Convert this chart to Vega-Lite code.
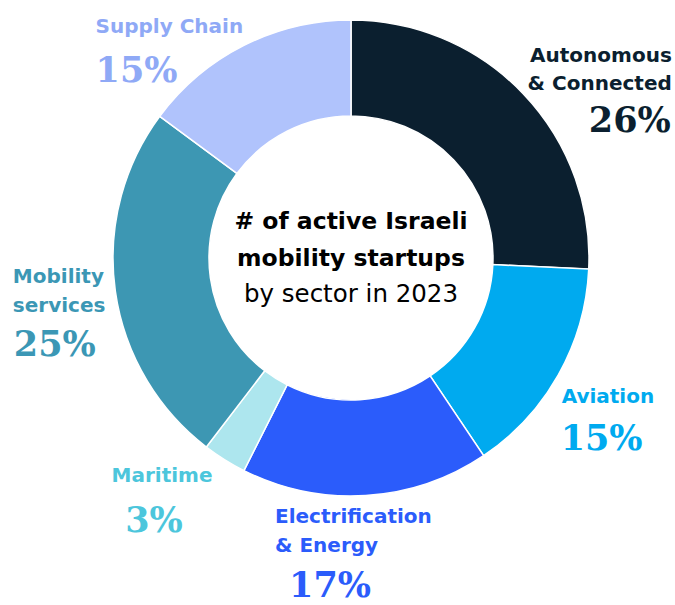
{
  "$schema": "https://vega.github.io/schema/vega-lite/v6.json",
  "width": 648,
  "height": 516,
  "autosize": {"type": "none"},
  "padding": {"left": 27, "top": 0, "right": 0, "bottom": 89},
  "background": "white",
  "config": {"view": {"stroke": null}},
  "data": {
    "values": [
      {"sector": "Autonomous & Connected", "label": "Autonomous\n& Connected", "value": 26, "pct": "26%"},
      {"sector": "Aviation", "label": "Aviation", "value": 15, "pct": "15%"},
      {"sector": "Electrification & Energy", "label": "Electrification\n& Energy", "value": 17, "pct": "17%"},
      {"sector": "Maritime", "label": "Maritime", "value": 3, "pct": "3%"},
      {"sector": "Mobility services", "label": "Mobility\nservices", "value": 25, "pct": "25%"},
      {"sector": "Supply Chain", "label": "Supply Chain", "value": 15, "pct": "15%"}
    ]
  },
  "layer": [
    {
      "mark": {"type": "arc", "innerRadius": 142, "outerRadius": 238, "stroke": "white", "strokeWidth": 1.5},
      "encoding": {
        "theta": {"field": "value", "type": "quantitative", "stack": true},
        "order": {"field": "sector", "sort": "ascending"},
        "color": {
          "field": "sector", "type": "nominal", "legend": null,
          "scale": {
            "domain": ["Autonomous & Connected", "Aviation", "Electrification & Energy", "Maritime", "Mobility services", "Supply Chain"],
            "range": ["#0b1f2f", "#00aaef", "#2b5cfb", "#ade6ee", "#3d97b3", "#b0c3fc"]
          }
        }
      }
    },
    {
      "mark": {"type": "text", "radius": 290, "align": "right", "baseline": "alphabetic", "dx": 111, "dy": 4, "lineBreak": "\n", "lineHeight": 28, "font": "DejaVu Sans", "fontWeight": "bold", "fontSize": 20, "color": "#0b1f2f"},
      "encoding": {
        "theta": {"field": "value", "type": "quantitative", "stack": true},
        "order": {"field": "sector", "sort": "ascending"},
        "text": {"condition": {"test": "datum.sector === 'Autonomous & Connected'", "field": "label"}, "value": ""}
      }
    },
    {
      "mark": {"type": "text", "radius": 290, "align": "right", "baseline": "alphabetic", "dx": 110, "dy": 74, "font": "DejaVu Serif", "fontWeight": "bold", "fontSize": 35, "color": "#0b1f2f"},
      "encoding": {
        "theta": {"field": "value", "type": "quantitative", "stack": true},
        "order": {"field": "sector", "sort": "ascending"},
        "text": {"condition": {"test": "datum.sector === 'Autonomous & Connected'", "field": "pct"}, "value": ""}
      }
    },
    {
      "mark": {"type": "text", "radius": 290, "align": "left", "baseline": "alphabetic", "dx": -42, "dy": 3, "font": "DejaVu Sans", "fontWeight": "bold", "fontSize": 20, "color": "#00aaef"},
      "encoding": {
        "theta": {"field": "value", "type": "quantitative", "stack": true},
        "order": {"field": "sector", "sort": "ascending"},
        "text": {"condition": {"test": "datum.sector === 'Aviation'", "field": "label"}, "value": ""}
      }
    },
    {
      "mark": {"type": "text", "radius": 290, "align": "left", "baseline": "alphabetic", "dx": -43, "dy": 50, "font": "DejaVu Serif", "fontWeight": "bold", "fontSize": 35, "color": "#00aaef"},
      "encoding": {
        "theta": {"field": "value", "type": "quantitative", "stack": true},
        "order": {"field": "sector", "sort": "ascending"},
        "text": {"condition": {"test": "datum.sector === 'Aviation'", "field": "pct"}, "value": ""}
      }
    },
    {
      "mark": {"type": "text", "radius": 290, "align": "left", "baseline": "alphabetic", "dx": -94, "dy": -24, "lineBreak": "\n", "lineHeight": 29, "font": "DejaVu Sans", "fontWeight": "bold", "fontSize": 20, "color": "#2b5cfb"},
      "encoding": {
        "theta": {"field": "value", "type": "quantitative", "stack": true},
        "order": {"field": "sector", "sort": "ascending"},
        "text": {"condition": {"test": "datum.sector === 'Electrification & Energy'", "field": "label"}, "value": ""}
      }
    },
    {
      "mark": {"type": "text", "radius": 290, "align": "center", "baseline": "alphabetic", "dx": -39, "dy": 50, "font": "DejaVu Serif", "fontWeight": "bold", "fontSize": 35, "color": "#2b5cfb"},
      "encoding": {
        "theta": {"field": "value", "type": "quantitative", "stack": true},
        "order": {"field": "sector", "sort": "ascending"},
        "text": {"condition": {"test": "datum.sector === 'Electrification & Energy'", "field": "pct"}, "value": ""}
      }
    },
    {
      "mark": {"type": "text", "radius": 290, "align": "center", "baseline": "alphabetic", "dx": -35, "dy": -22, "font": "DejaVu Sans", "fontWeight": "bold", "fontSize": 20, "color": "#4cc6dc"},
      "encoding": {
        "theta": {"field": "value", "type": "quantitative", "stack": true},
        "order": {"field": "sector", "sort": "ascending"},
        "text": {"condition": {"test": "datum.sector === 'Maritime'", "field": "label"}, "value": ""}
      }
    },
    {
      "mark": {"type": "text", "radius": 290, "align": "center", "baseline": "alphabetic", "dx": -43, "dy": 28, "font": "DejaVu Serif", "fontWeight": "bold", "fontSize": 35, "color": "#4cc6dc"},
      "encoding": {
        "theta": {"field": "value", "type": "quantitative", "stack": true},
        "order": {"field": "sector", "sort": "ascending"},
        "text": {"condition": {"test": "datum.sector === 'Maritime'", "field": "pct"}, "value": ""}
      }
    },
    {
      "mark": {"type": "text", "radius": 290, "align": "left", "baseline": "alphabetic", "dx": -51, "dy": -15, "lineBreak": "\n", "lineHeight": 29, "font": "DejaVu Sans", "fontWeight": "bold", "fontSize": 20, "color": "#3b97b5"},
      "encoding": {
        "theta": {"field": "value", "type": "quantitative", "stack": true},
        "order": {"field": "sector", "sort": "ascending"},
        "text": {"condition": {"test": "datum.sector === 'Mobility services'", "field": "label"}, "value": ""}
      }
    },
    {
      "mark": {"type": "text", "radius": 290, "align": "left", "baseline": "alphabetic", "dx": -50, "dy": 58, "font": "DejaVu Serif", "fontWeight": "bold", "fontSize": 35, "color": "#3b97b5"},
      "encoding": {
        "theta": {"field": "value", "type": "quantitative", "stack": true},
        "order": {"field": "sector", "sort": "ascending"},
        "text": {"condition": {"test": "datum.sector === 'Mobility services'", "field": "pct"}, "value": ""}
      }
    },
    {
      "mark": {"type": "text", "radius": 290, "align": "left", "baseline": "alphabetic", "dx": -125, "dy": 34, "font": "DejaVu Sans", "fontWeight": "bold", "fontSize": 20, "color": "#8fa9f6"},
      "encoding": {
        "theta": {"field": "value", "type": "quantitative", "stack": true},
        "order": {"field": "sector", "sort": "ascending"},
        "text": {"condition": {"test": "datum.sector === 'Supply Chain'", "field": "label"}, "value": ""}
      }
    },
    {
      "mark": {"type": "text", "radius": 290, "align": "left", "baseline": "alphabetic", "dx": -125, "dy": 83, "font": "DejaVu Serif", "fontWeight": "bold", "fontSize": 35, "color": "#8fa9f6"},
      "encoding": {
        "theta": {"field": "value", "type": "quantitative", "stack": true},
        "order": {"field": "sector", "sort": "ascending"},
        "text": {"condition": {"test": "datum.sector === 'Supply Chain'", "field": "pct"}, "value": ""}
      }
    },
    {
      "data": {"values": [{"line1": "# of active Israeli"}]},
      "mark": {"type": "text", "align": "center", "baseline": "alphabetic", "dy": -29, "font": "DejaVu Sans", "fontWeight": "bold", "fontSize": 23.5, "color": "#000000"},
      "encoding": {
        "text": {"field": "line1", "type": "nominal"}
      }
    },
    {
      "data": {"values": [{"line2": "mobility startups"}]},
      "mark": {"type": "text", "align": "center", "baseline": "alphabetic", "dy": 8, "font": "DejaVu Sans", "fontWeight": "bold", "fontSize": 23.5, "color": "#000000"},
      "encoding": {
        "text": {"field": "line2", "type": "nominal"}
      }
    },
    {
      "data": {"values": [{"line3": "by sector in 2023"}]},
      "mark": {"type": "text", "align": "center", "baseline": "alphabetic", "dy": 44, "font": "DejaVu Sans", "fontSize": 24.5, "color": "#000000"},
      "encoding": {
        "text": {"field": "line3", "type": "nominal"}
      }
    }
  ]
}
